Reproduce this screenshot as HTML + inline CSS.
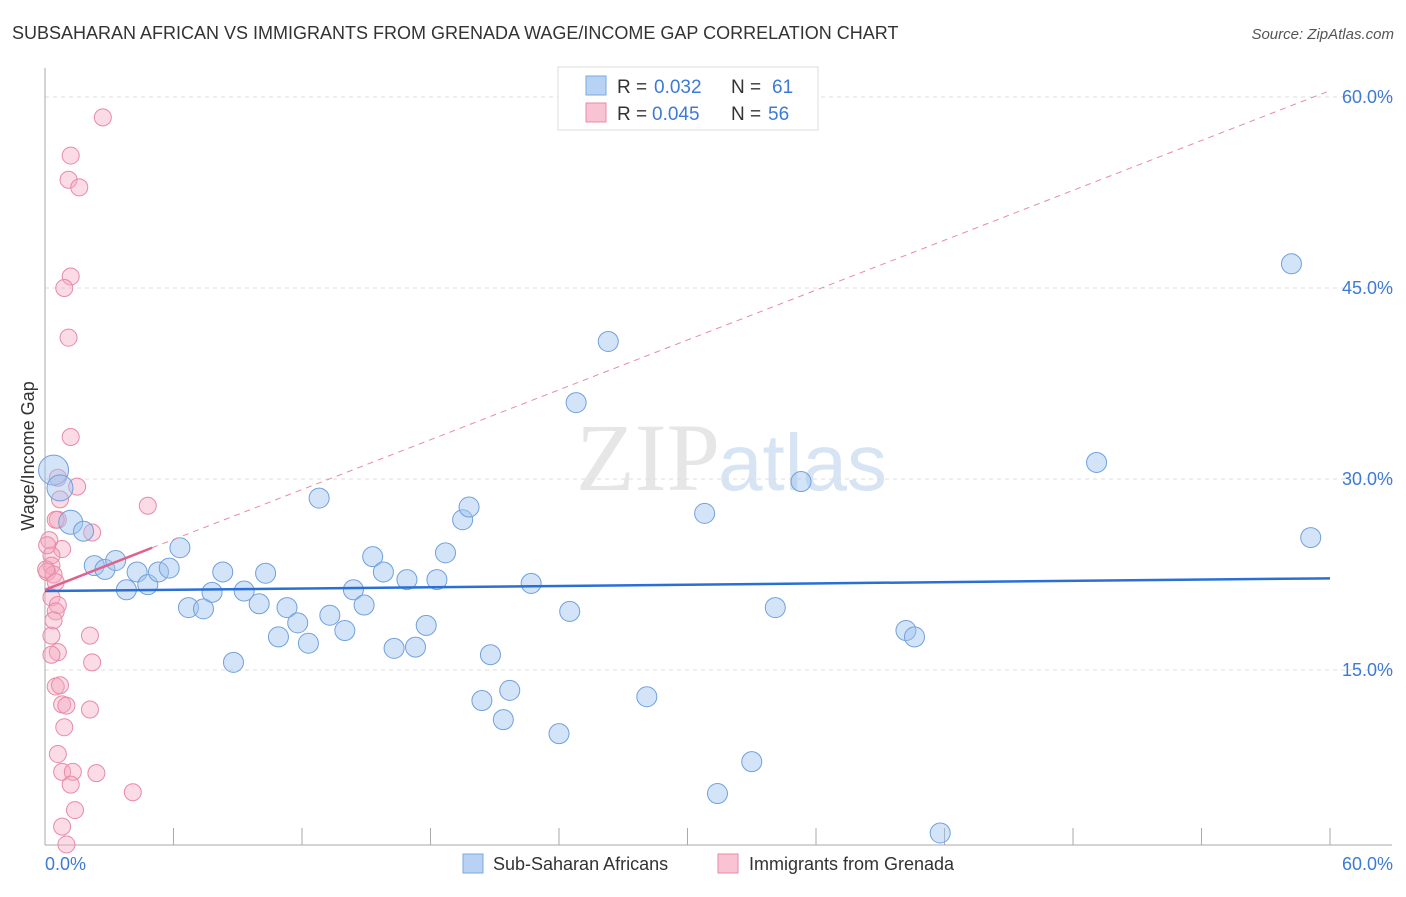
<!DOCTYPE html>
<html><head><meta charset="utf-8"><style>
body{margin:0;background:#fff;font-family:"Liberation Sans",sans-serif}
</style></head><body>
<svg id="c" width="1406" height="892" xmlns="http://www.w3.org/2000/svg">
<text x="12" y="39" font-size="18" fill="#333">SUBSAHARAN AFRICAN VS IMMIGRANTS FROM GRENADA WAGE/INCOME GAP CORRELATION CHART</text>
<text x="1394" y="39" font-size="15" fill="#555" font-style="italic" text-anchor="end">Source: ZipAtlas.com</text>
<text x="720" y="490" font-size="96" fill="#e6e6e6" text-anchor="end" font-family="Liberation Serif,serif">ZIP</text>
<text x="718" y="490" font-size="80" fill="#d6e4f3">atlas</text>
<text transform="translate(34,456) rotate(-90)" font-size="18" fill="#333" text-anchor="middle">Wage/Income Gap</text>
<g id="grid"></g><g id="axes"></g><g id="marks"></g>
<g>
<rect x="558" y="67" width="260" height="63" fill="#fff" stroke="#ddd"/>
<rect x="586" y="76" width="20" height="19" fill="#b8d2f3" stroke="#7aaae0"/>
<rect x="586" y="103" width="20" height="19" fill="#f8c4d4" stroke="#e88aa8"/>
<text x="617" y="93" font-size="19" fill="#333">R =</text>
<text x="654" y="93" font-size="19" fill="#3d7ad6">0.032</text>
<text x="731" y="93" font-size="19" fill="#333">N =</text>
<text x="772" y="93" font-size="19" fill="#3d7ad6">61</text>
<text x="617" y="120" font-size="19" fill="#333">R =</text>
<text x="652" y="120" font-size="19" fill="#3d7ad6">0.045</text>
<text x="731" y="120" font-size="19" fill="#333">N =</text>
<text x="768" y="120" font-size="19" fill="#3d7ad6">56</text>
</g>
<g>
<rect x="463" y="854" width="20" height="19" fill="#b8d2f3" stroke="#7aaae0"/>
<text x="493" y="870" font-size="18" fill="#333">Sub-Saharan Africans</text>
<rect x="718" y="854" width="20" height="19" fill="#f8c4d4" stroke="#e88aa8"/>
<text x="749" y="870" font-size="18" fill="#333">Immigrants from Grenada</text>
</g>
</svg>
<script>
const blueX=[0.4,0.7,1.2,1.8,2.3,2.8,3.3,3.8,4.3,4.8,5.3,5.8,6.3,6.7,7.4,7.8,8.3,8.8,9.3,10.0,10.3,10.9,11.3,11.8,12.3,12.8,13.3,14.0,14.4,14.9,15.3,15.8,16.3,16.9,17.3,17.8,18.3,18.7,19.5,19.8,20.4,20.8,21.4,21.7,22.7,24.0,24.5,24.8,26.3,28.1,30.8,31.4,33.0,34.1,35.3,40.2,40.6,41.8,49.1,58.2,59.1];
const blueY=[30.7,29.3,26.6,25.9,23.2,22.9,23.6,21.3,22.7,21.7,22.7,23.0,24.6,19.9,19.8,21.1,22.7,15.6,21.2,20.2,22.6,17.6,19.9,18.7,17.1,28.5,19.3,18.1,21.3,20.1,23.9,22.7,16.7,22.1,16.8,18.5,22.1,24.2,26.8,27.8,12.6,16.2,11.1,13.4,21.8,10.0,19.6,36.0,40.8,12.9,27.3,5.3,7.8,19.9,29.8,18.1,17.6,2.2,31.3,46.9,25.4];
const pinkX=[2.7,1.2,1.1,1.6,1.2,0.9,1.1,1.2,1.5,4.8,0.6,0.7,0.6,2.2,0.8,0.3,0.3,0.1,0.4,0.05,0.5,0.3,0.6,0.5,0.3,2.1,0.6,2.2,0.3,0.5,0.7,2.1,0.8,1.0,0.9,0.6,0.8,1.3,2.4,1.2,4.1,1.4,0.8,1.0,0.5,0.2,0.1,0.4];
const pinkY=[58.4,55.4,53.5,52.9,45.9,45.0,41.1,33.3,29.4,27.9,30.1,28.4,26.8,25.8,24.5,24.0,23.2,22.7,22.5,22.9,21.9,20.7,20.1,19.6,17.7,17.7,16.4,15.6,16.2,13.7,13.8,11.9,12.3,12.2,10.5,8.4,7.0,7.0,6.9,6.0,5.4,4.0,2.7,1.3,26.8,25.2,24.8,18.9];
const yTicks=[15,30,45,60];
const xMin=0,xMax=60;
const X=v=>45+(v-xMin)/(xMax-xMin)*1285;
const Y=v=>861-v/60*764;
const NS="http://www.w3.org/2000/svg";
function mk(t,a,p){const e=document.createElementNS(NS,t);for(const k in a)e.setAttribute(k,a[k]);p.appendChild(e);return e;}
const grid=document.getElementById('grid'),axes=document.getElementById('axes'),marks=document.getElementById('marks');
yTicks.forEach(t=>{
 const l=mk('line',{x1:45,x2:1392,y1:Y(t),y2:Y(t),stroke:'#ddd','stroke-dasharray':'4,4'},grid);
 
 
 const tx=mk('text',{x:1393,y:Y(t)+6,'font-size':18,fill:'#3d7ad6','text-anchor':'end'},axes);
 tx.textContent=t.toFixed(1)+'%';
 
 
});
mk('line',{x1:45,x2:45,y1:68,y2:845,stroke:'#aaa'},axes);
mk('line',{x1:45,x2:1392,y1:845,y2:845,stroke:'#aaa'},axes);
for(let i=1;i<=10;i++){mk('line',{x1:X(i*6),x2:X(i*6),y1:828,y2:845,stroke:'#aaa'},axes);}
const x0=mk('text',{x:45,y:870,'font-size':18,fill:'#3d7ad6'},axes);x0.textContent='0.0%';


const x1=mk('text',{x:1393,y:870,'font-size':18,fill:'#3d7ad6','text-anchor':'end'},axes);x1.textContent='60.0%';


pinkX.forEach((v,i)=>{const c=mk('circle',{cx:X(v),cy:Y(pinkY[i]),r:8.5,fill:'rgba(245,165,190,0.4)',stroke:'#e88aa8','stroke-width':1},marks);
 
 });
blueX.forEach((v,i)=>{const r=i==0?15:i==1?13:i==2?12:10;const c=mk('circle',{cx:X(v),cy:Y(blueY[i]),r:r,fill:'rgba(160,195,240,0.45)',stroke:'#6fa0dc','stroke-width':1},marks);
 
 });
const bl=mk('line',{x1:X(0),y1:Y(21.2),x2:X(60),y2:Y(22.2),stroke:'#2a6fd6','stroke-width':2.5},marks);


const pd=mk('line',{x1:X(5),y1:Y(24.6),x2:X(60),y2:Y(60.5),stroke:'#e88aa8','stroke-width':1,'stroke-dasharray':'6,5'},marks);


const pl=mk('line',{x1:X(0),y1:Y(21.3),x2:X(5),y2:Y(24.6),stroke:'#e0628a','stroke-width':2.5},marks);


</script>
</body></html>
